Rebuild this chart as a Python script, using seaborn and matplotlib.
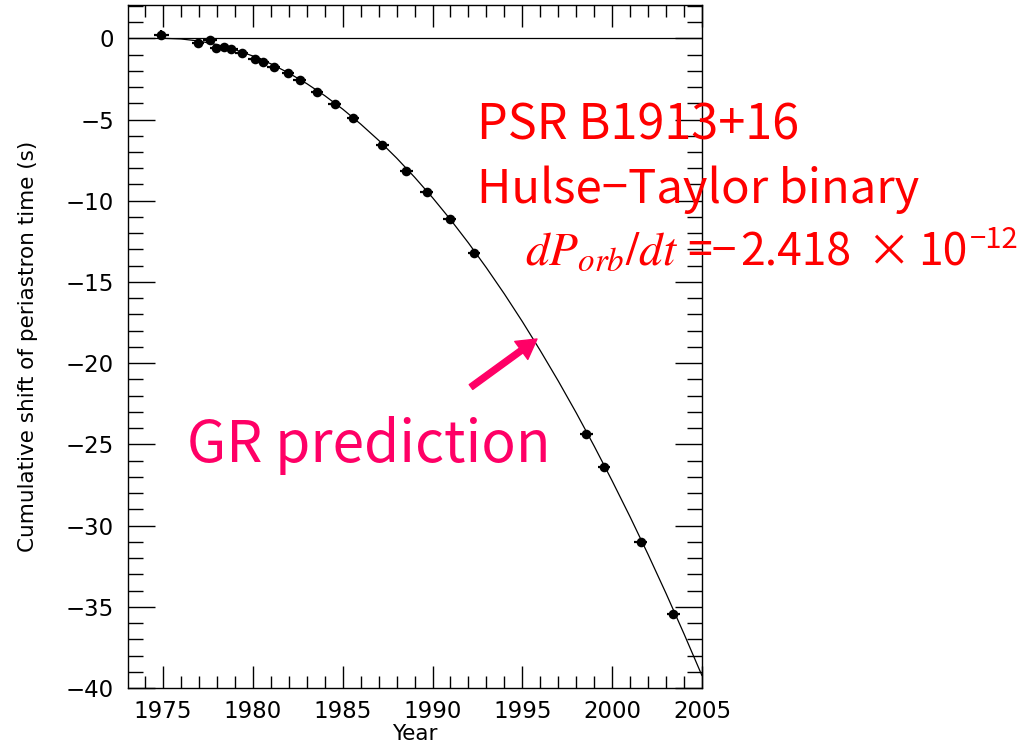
import matplotlib
matplotlib.use("Agg")
import matplotlib.pyplot as plt
from matplotlib.ticker import MultipleLocator
import seaborn as sns

# Measured periastron-time shifts (s) of PSR B1913+16
obs_year = [1974.9, 1976.95, 1977.6, 1977.97, 1978.4, 1978.8, 1979.37, 1980.1,
            1980.57, 1981.16, 1981.96, 1982.6, 1983.57, 1984.56, 1985.58, 1987.2,
            1988.55, 1989.67, 1990.96, 1992.3, 1998.57, 1999.54, 2001.58, 2003.4]
obs_shift = [0.2, -0.31, -0.1, -0.58, -0.52, -0.66, -0.89, -1.29,
             -1.46, -1.75, -2.15, -2.58, -3.32, -4.04, -4.92, -6.58,
             -8.15, -9.48, -11.12, -13.2, -24.37, -26.42, -31.04, -35.43]
obs_xerr = [0.42, 0.35, 0.38, 0.35, 0.35, 0.35, 0.35, 0.35,
            0.35, 0.35, 0.35, 0.35, 0.35, 0.35, 0.35, 0.35,
            0.35, 0.35, 0.35, 0.35, 0.35, 0.35, 0.35, 0.35]
obs_yerr = [0.3, 0.22, 0.2, 0.12, 0.1, 0.1, 0.1, 0.1,
            0.1, 0.1, 0.1, 0.1, 0.1, 0.1, 0.1, 0.1,
            0.1, 0.1, 0.1, 0.1, 0.1, 0.1, 0.1, 0.1]

# GR-predicted cumulative shift (s), yearly
gr_year = [1975, 1976, 1977, 1978, 1979, 1980, 1981, 1982, 1983, 1984, 1985,
           1986, 1987, 1988, 1989, 1990, 1991, 1992, 1993, 1994, 1995, 1996,
           1997, 1998, 1999, 2000, 2001, 2002, 2003, 2004, 2005]
gr_shift = [0.0, -0.04, -0.17, -0.39, -0.70, -1.09, -1.57, -2.14, -2.79, -3.53,
            -4.36, -5.28, -6.28, -7.37, -8.55, -9.81, -11.16, -12.60, -14.13,
            -15.74, -17.44, -19.23, -21.10, -23.06, -25.11, -27.25, -29.47,
            -31.78, -34.18, -36.67, -39.24]

sns.set_style("ticks")
plt.rcParams["font.family"] = ["DejaVu Sans"]
for key in ("text.color", "axes.labelcolor", "xtick.color", "ytick.color",
            "axes.edgecolor"):
    plt.rcParams[key] = "black"

W, H = 1036, 742
AX_TOP, AX_BOTTOM = 5, 688
fig = plt.figure(figsize=(W / 100, H / 100), dpi=100)
ax = fig.add_axes([128 / W, 1 - AX_BOTTOM / H, (702 - 128) / W,
                   (AX_BOTTOM - AX_TOP) / H])

ax.axhline(0, color="black", lw=0.9, zorder=1)
sns.lineplot(x=gr_year, y=gr_shift, ax=ax, color="black", lw=0.9, zorder=2)
ax.errorbar(obs_year, obs_shift, xerr=obs_xerr, yerr=obs_yerr, fmt="none",
            ecolor="black", elinewidth=1.6, capsize=0, zorder=3)
sns.scatterplot(x=obs_year, y=obs_shift, ax=ax, color="black", marker="o",
                s=48, edgecolor="black", linewidth=0, zorder=4)

ax.set_xlim(1973.05, 2005)
ax.set_ylim(-40, 2.05)
ax.xaxis.set_major_locator(MultipleLocator(5))
ax.xaxis.set_minor_locator(MultipleLocator(1))
ax.yaxis.set_major_locator(MultipleLocator(5))
ax.yaxis.set_minor_locator(MultipleLocator(1))
ax.tick_params(which="both", direction="in", top=True, right=True,
               width=1.0, color="black", labelsize=16.5, labelcolor="black")
ax.tick_params(axis="x", which="major", length=16, pad=9)
ax.tick_params(axis="x", which="minor", length=8.5)
ax.tick_params(axis="y", which="major", length=19.5, pad=10)
ax.tick_params(axis="y", which="minor", length=10.5)
for sp in ax.spines.values():
    sp.set_visible(True)
    sp.set_linewidth(1.0)
    sp.set_color("black")

xl = ax.set_xlabel("Year", fontsize=15.5, va="baseline")
ax.xaxis.set_label_coords(0.5, -(740 - AX_BOTTOM) / (AX_BOTTOM - AX_TOP))
ax.set_ylabel("Cumulative shift of periastron time (s)", fontsize=15.5,
              labelpad=20)


def px(x, y):
    return x / W, 1 - y / H


jp = ["Noto Sans CJK JP", "DejaVu Sans"]
red = "#FF0000"
fig.text(*px(477, 140), "PSR B1913+16", color=red, fontsize=35,
         family=jp, ha="left", va="baseline")
fig.text(*px(477, 203), "Hulse\u2212Taylor binary", color=red, fontsize=34,
         family=jp, ha="left", va="baseline")
fig.text(*px(525, 265), r"$dP_{orb}/dt$", color=red, fontsize=34,
         math_fontfamily="stix", ha="left", va="baseline")
fig.text(*px(687, 265), "=\u2212", color=red, fontsize=32,
         family=jp, ha="left", va="baseline")
fig.text(*px(740, 265), "2.418", color=red, fontsize=32,
         family=jp, ha="left", va="baseline")
fig.text(*px(866, 265), "\u00d7", color=red, fontsize=32,
         family=jp, ha="left", va="baseline")
fig.text(*px(918, 265), "10", color=red, fontsize=32,
         family=jp, ha="left", va="baseline")
fig.text(*px(970, 248), "\u221212", color=red, fontsize=21,
         family=jp, ha="left", va="baseline")

pink = "#FF0066"
fig.text(*px(187, 462), "GR prediction", color=pink, fontsize=41,
         family=jp, ha="left", va="baseline")
ax.annotate("", xy=px(537, 339), xycoords="figure fraction",
            xytext=px(471, 387), textcoords="figure fraction",
            arrowprops=dict(width=4.3, headwidth=16, headlength=14,
                            color=pink, shrink=0))

fig.savefig("out.png", dpi=100)
